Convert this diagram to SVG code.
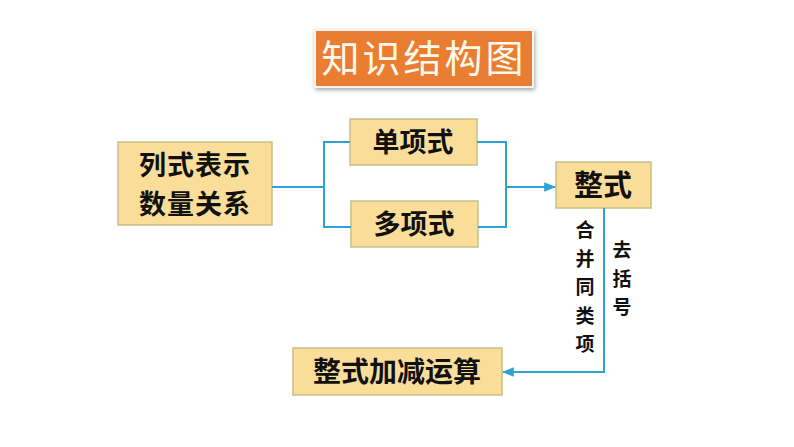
<svg xmlns="http://www.w3.org/2000/svg" width="794" height="447" viewBox="0 0 794 447">
<style>
.box{fill:#F9DD98;stroke:#C9BE86;stroke-width:1.5}
.t{font-family:"Noto Sans CJK SC","Noto Sans CJK JP",sans-serif;font-weight:bold;fill:#111;text-anchor:middle}
.ln{fill:none;stroke:#2FA2D4;stroke-width:2}
</style>
<defs>
<marker id="ah" viewBox="0 0 10 10" refX="9" refY="5" markerWidth="6" markerHeight="6" orient="auto-start-reverse">
<path d="M0,1 L10,5 L0,9 z" fill="#2FA2D4"/>
</marker>
<filter id="sh" x="-10%" y="-20%" width="120%" height="150%">
<feDropShadow dx="1" dy="2" stdDeviation="2" flood-color="#000" flood-opacity="0.35"/>
</filter>
</defs>
<g id="title">
<rect x="315" y="30" width="218" height="57" fill="#E97E32" stroke="#F4F4F4" stroke-width="2" filter="url(#sh)"/>
<text x="424" y="72" font-family="'Noto Sans CJK SC',sans-serif" font-size="38" fill="#FFF8EC" text-anchor="middle" letter-spacing="3">知识结构图</text>
</g>
<g id="n1">
<rect class="box" x="118" y="142" width="154" height="83"/>
<text class="t" x="195" y="175" font-size="27" letter-spacing="1">列式表示</text>
<text class="t" x="195" y="214" font-size="27" letter-spacing="1">数量关系</text>
</g>
<g id="n2">
<rect class="box" x="350" y="119" width="127" height="46"/>
<text class="t" x="413" y="152" font-size="27" font-weight="normal">单项式</text>
</g>
<g id="n3">
<rect class="box" x="351" y="201" width="127" height="46"/>
<text class="t" x="414" y="234" font-size="27" font-weight="normal">多项式</text>
</g>
<g id="n4">
<rect class="box" x="556" y="162" width="95" height="46"/>
<text class="t" x="603" y="196" font-size="29">整式</text>
</g>
<g id="n5">
<rect class="box" x="293" y="348" width="209" height="47"/>
<text class="t" x="397" y="382" font-size="28">整式加减运算</text>
</g>
<g id="connectors">
<path class="ln" d="M272,187 H324 M350,142 H324 V227 H351"/>
<path class="ln" d="M477,142 H506 V227 H478"/>
<path class="ln" d="M506,187 H555" marker-end="url(#ah)"/>
<path class="ln" d="M604,208 V372 H503" marker-end="url(#ah)"/>
</g>
<g id="labels" font-family="'Noto Sans CJK SC',sans-serif" font-size="19" font-weight="bold" fill="#111" text-anchor="middle">
<text x="585" y="237">合</text>
<text x="585" y="265.5">并</text>
<text x="585" y="294">同</text>
<text x="585" y="322.5">类</text>
<text x="585" y="351">项</text>
<text x="622" y="257">去</text>
<text x="622" y="285.5">括</text>
<text x="622" y="314">号</text>
</g>
</svg>
